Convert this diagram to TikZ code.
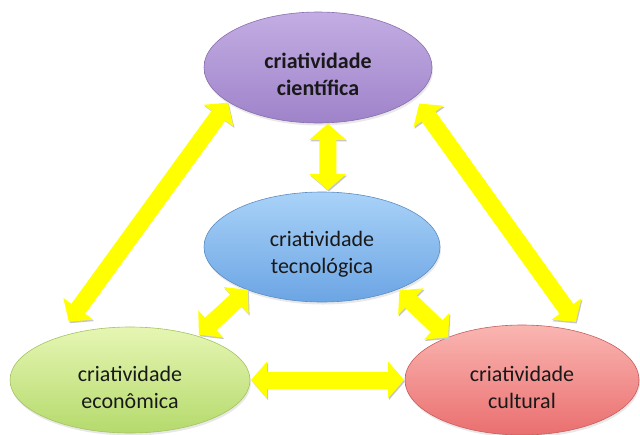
\documentclass[tikz,border=0pt]{standalone}
\usepackage{fontspec}
\setmainfont{Carlito}
\usetikzlibrary{shapes.geometric,arrows.meta,shadows}
\definecolor{lilac}{HTML}{C3ADE3}
\definecolor{lilacdark}{HTML}{9F83CA}
\definecolor{sky}{HTML}{A9D2F8}
\definecolor{skydark}{HTML}{6CA5E4}
\definecolor{lime}{HTML}{E6F6B3}
\definecolor{limedark}{HTML}{B5DA6C}
\definecolor{rose}{HTML}{FAB6B2}
\definecolor{rosedark}{HTML}{EA6F6F}
\definecolor{signal}{HTML}{FFFF00}
\newcommand{\lowline}{\rule{0pt}{30pt}}
\tikzset{bubble/.style={ellipse,inner sep=0pt,outer sep=0pt,align=center,line width=0.6pt,
    font=\fontsize{22}{27}\selectfont,text=black!90,
    drop shadow={opacity=0.18,shadow xshift=1pt,shadow yshift=-2.5pt}},
  link/.style={draw=signal,line width=17pt,
    {Triangle[width=36pt,length=16pt]}-{Triangle[width=36pt,length=16pt]},
    preaction={draw=black!22,transform canvas={xshift=1pt,yshift=-1.5pt}}}}

\begin{document}
\begin{tikzpicture}[x=1pt,y=-1pt]
            \useasboundingbox (0,0) rectangle (640,434);
            % the four kinds of creativity
            \node [bubble,minimum width=228pt,minimum height=111pt,top color=lilac,bottom color=lilacdark,draw=lilacdark!85!black,font=\fontsize{22}{27}\selectfont\bfseries] (cien) at (318,67.5) {\lowline criatividade\\científica};
            \node [bubble,minimum width=236pt,minimum height=110pt,top color=sky,bottom color=skydark,draw=skydark!85!black] (tec) at (322,247) {\lowline criatividade\\tecnológica};
            \node [bubble,minimum width=240pt,minimum height=106pt,top color=lime,bottom color=limedark,draw=limedark!90!black] (eco) at (130,380) {\lowline criatividade\\econômica};
            \node [bubble,minimum width=234pt,minimum height=110pt,top color=rose,bottom color=rosedark,draw=rosedark!85!black] (cul) at (522,380) {\lowline criatividade\\cultural};
            % two-way links
            \draw [link,shorten <=20pt,shorten >=1pt] (eco.150) -- (cien.201);
            \draw [link,shorten <=8pt,shorten >=14pt] (cien.-17) -- (cul.37);
            \draw [link,shorten <=1pt,shorten >=2pt] (cien.-80) -- (tec.84);
            \draw [link,shorten <=2pt] (eco.33) -- (tec.210);
            \draw [link,shorten <=2pt] (tec.-29) -- (cul.150);
            \draw [link,shorten <=1pt,shorten >=1pt] (eco.east) -- (cul.west);
        \end{tikzpicture}
\end{document}
